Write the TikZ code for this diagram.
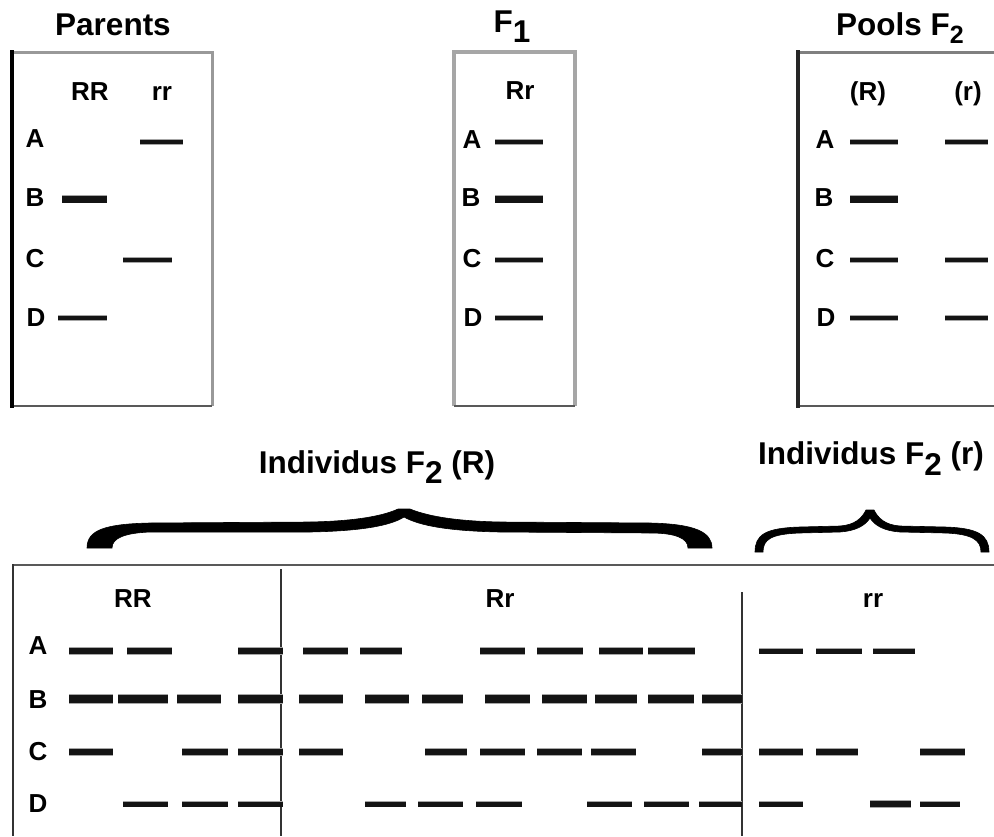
\documentclass[tikz,border=0pt]{standalone}
\usepackage{fontspec}
\setmainfont{Liberation Sans}
\newcommand\lowsub[2]{\raisebox{-#1pt}{#2}}
\begin{document}
\begin{tikzpicture}[x=1pt,y=-1pt,
  title/.style={font=\fontsize{31.5}{36}\selectfont\bfseries, anchor=base, inner sep=0pt},
  lab/.style={font=\fontsize{26}{30}\selectfont\bfseries, inner sep=0pt},
  hdr/.style={lab, anchor=base},
  band/.style={preaction={draw=black!35, line width=#1pt+1.6pt}, draw=black!92, line width=#1pt},
  darkframe/.style={draw=black!65, line width=2.5pt},
  divider/.style={draw=black!80, line width=1.8pt},
  brace/.style={fill=black, draw=black, line width=0.6pt}]
\useasboundingbox (0,0) rectangle (994,836);
\fill[white] (0,0) rectangle (994,836);

% ---------- Titles ----------
\node[title] (tparents) at (113,35) {Parents};
\node[title] (tf1) at (512,32) {F\lowsub{10}{1}};
\node[title] (tpools) at (900,35) {Pools F\lowsub{8}{\fontsize{25}{25}\selectfont 2}};

% ---------- Parents panel ----------
\draw[draw=black!40, line width=3pt] (12,52) -- (212,52) -- (212,406);
\draw[darkframe] (12,406) -- (212,406);
\draw[draw=black, line width=4.5pt] (12,50) -- (12,408);
\node[hdr] (pRR) at (90,100) {RR};
\node[hdr] (prr) at (162,100) {rr};
\node[lab] (pA) at (35,139) {A};
\node[lab] (pB) at (35,198) {B};
\node[lab] (pC) at (35,259) {C};
\node[lab] (pD) at (36,318) {D};
\draw[band=4.5] (140,142) -- (183,142);
\draw[band=7] (62,199) -- (107,199);
\draw[band=4.5] (123,260) -- (172,260);
\draw[band=4.5] (58,318) -- (107,318);

% ---------- F1 panel ----------
\draw[draw=black!35, line width=3.5pt] (454,406) -- (454,52) -- (575,52) -- (575,406);
\draw[darkframe] (454,406) -- (575,406);
\node[hdr] (fRr) at (520,99) {Rr};
\node[lab] (fA) at (472,140) {A};
\node[lab] (fB) at (471,198) {B};
\node[lab] (fC) at (472,259) {C};
\node[lab] (fD) at (473,318) {D};
\draw[band=4.5] (495,142) -- (543,142);
\draw[band=7] (495,199) -- (543,199);
\draw[band=4.5] (495,260) -- (543,260);
\draw[band=4.5] (495,318) -- (543,318);

% ---------- Pools F2 panel ----------
\draw[draw=black!50, line width=3pt] (798,52) -- (994,52);
\draw[darkframe] (798,406) -- (994,406);
\draw[draw=black!85, line width=4.5pt] (798,50) -- (798,408);
\node[hdr] (poR) at (868,100) {(R)};
\node[hdr] (por) at (968,100) {(r)};
\node[lab] (poA) at (825,140) {A};
\node[lab] (poB) at (824,198) {B};
\node[lab] (poC) at (825,259) {C};
\node[lab] (poD) at (826,318) {D};
\draw[band=4.5] (850,142) -- (898,142);
\draw[band=4.5] (945,142) -- (988,142);
\draw[band=7] (850,199) -- (898,199);
\draw[band=4.5] (850,260) -- (898,260);
\draw[band=4.5] (945,260) -- (988,260);
\draw[band=4.5] (850,318) -- (898,318);
\draw[band=4.5] (945,318) -- (988,318);

% ---------- Group labels and braces ----------
\node[title] (iR) at (377,473) {Individus F\lowsub{10}{2} (R)};
\node[title] (ir) at (871,464) {Individus F\lowsub{11}{2} (r)};

\fill[brace] (87,548) .. controls (87,530) and (105,524) .. (150,523)
  -- (310,522) .. controls (360,521) and (385,515) .. (398,509)
  -- (410,509) .. controls (425,515) and (450,521) .. (500,522)
  -- (650,523) .. controls (695,524) and (712,532) .. (712,548)
  -- (688,548) .. controls (688,538) and (675,533) .. (650,533)
  -- (500,532) .. controls (450,531) and (420,526) .. (404,517)
  .. controls (390,526) and (360,531) .. (310,532)
  -- (150,532) .. controls (125,533) and (112,538) .. (112,548) -- cycle;

\fill[brace] (755,552) .. controls (755,535) and (765,528) .. (800,527)
  -- (840,526) .. controls (855,525) and (862,518) .. (866,510)
  -- (874,510) .. controls (878,518) and (885,525) .. (900,526)
  -- (945,527) .. controls (978,528) and (989,535) .. (989,552)
  -- (981,552) .. controls (981,540) and (972,534) .. (945,533)
  -- (900,532) .. controls (885,531) and (875,526) .. (870,518)
  .. controls (865,526) and (855,531) .. (840,532)
  -- (800,533) .. controls (770,534) and (763,540) .. (763,552) -- cycle;

% ---------- Bottom gel ----------
\draw[draw=black!65, line width=2pt] (12,565) -- (994,565);
\draw[draw=black!80, line width=2pt] (13,564) -- (13,836);
\draw[divider] (281,569) -- (281,836);
\draw[divider] (742,592) -- (742,836);

\node[hdr] (bRR) at (133,607) {RR};
\node[hdr] (bRr) at (500,607) {Rr};
\node[hdr] (brr) at (873,607) {rr};
\node[lab] (bA) at (38,646) {A};
\node[lab] (bB) at (38,700) {B};
\node[lab] (bC) at (38,752) {C};
\node[lab] (bD) at (38,804) {D};

\foreach \a/\b in {69/113,127/172,238/283,303/348,360/402,480/525,537/583,599/643,648/695}
  \draw[band=5.5] (\a,651) -- (\b,651);
\foreach \a/\b in {759/803,816/862,873/915}
  \draw[band=5] (\a,651) -- (\b,651);
\foreach \a/\b in {69/113,118/168,177/221,238/283,299/343,365/409,422/463,485/530,542/587,595/637,648/694,702/742}
  \draw[band=7.5] (\a,699) -- (\b,699);
\foreach \a/\b in {69/113,182/228,238/283,299/343,425/467,480/525,537/582,591/636,702/742,759/803,816/858,920/965}
  \draw[band=5.5] (\a,752) -- (\b,752);
\foreach \a/\b in {123/168,182/228,238/283,365/406,418/463,476/522,587/632,644/689,699/742,759/803,920/960}
  \draw[band=5] (\a,804) -- (\b,804);
\draw[band=6.5] (870,804) -- (911,804);
\end{tikzpicture}
\end{document}
